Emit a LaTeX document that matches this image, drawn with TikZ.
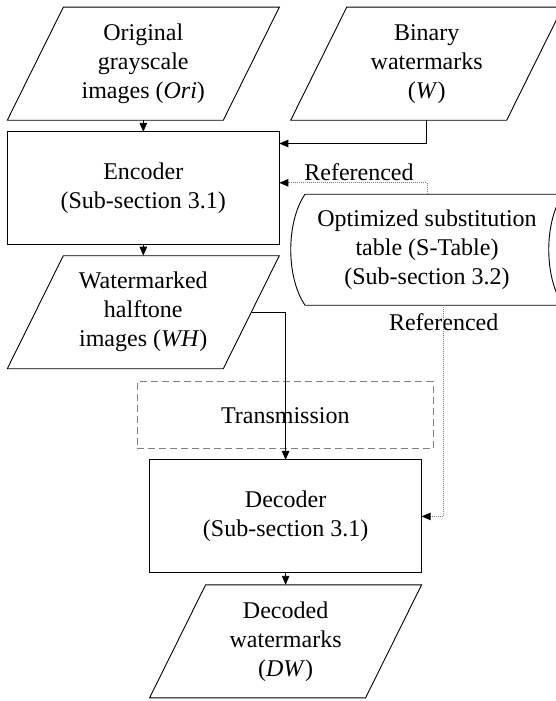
\documentclass[tikz,border=0pt]{standalone}
\usepackage{fontspec}
\setmainfont{Liberation Serif}
\usetikzlibrary{arrows.meta,calc}
\begin{document}
\begin{tikzpicture}[x=1pt,y=-1pt,
  txt/.style={font=\fontsize{24}{29}\selectfont, align=center, inner sep=0pt, outer sep=0pt},
  area/.style={txt, minimum width=272pt, minimum height=113pt},
  shp/.style={draw=black, line width=0.9pt, line join=miter},
  boxx/.style={area, draw=black, line width=0.9pt},
  arr/.style={draw=black, line width=0.9pt, -{Triangle[length=9pt,width=7.5pt]}},
  refl/.style={draw=gray, line width=0.9pt, dash pattern=on 1pt off 1pt, -{Triangle[length=9pt,width=7.5pt,color=black]}},
  dashbox/.style={txt, draw=gray, line width=1pt, dash pattern=on 7pt off 4pt, minimum width=296pt, minimum height=67pt}
]
\useasboundingbox (0,0) rectangle (556,701);
\clip (0,0) rectangle (556,701);
\newcommand\drawpara[1]{\draw[shp] (#1.south west) -- ($(#1.south east)+(-56,0)$) -- (#1.north east) -- ($(#1.north west)+(56,0)$) -- cycle;}

% parallelograms
\node[area] (ori) at (143.3,63.7) {Original\\grayscale\\images (\textit{Ori})};
\drawpara{ori}
\node[area] (bin) at (426.7,63.7) {Binary\\watermarks\\(\textit{W})};
\drawpara{bin}
\node[area] (wh) at (143.3,312.2) {Watermarked\\halftone\\images (\textit{WH})};
\drawpara{wh}
\node[area] (dw) at (285.6,641.3) {Decoded\\watermarks\\(\textit{DW})};
\drawpara{dw}

% process boxes
\node[boxx] (enc) at (143.3,188.3) {Encoder\\(Sub-section 3.1)};
\node[boxx] (dec) at (285.6,516.4) {Decoder\\(Sub-section 3.1)};

% transmission
\node[dashbox] (trans) at (285.3,415.3) {Transmission};

% stored data shape
\node[txt, minimum width=244pt, minimum height=111pt] (stab) at (427,249.7) {Optimized substitution\\table (S-Table)\\(Sub-section 3.2)};
\draw[shp] ($(stab.north east)+(14,0)$) -- (stab.north west)
  .. controls ($(stab.north west)+(-19,28)$) and ($(stab.south west)+(-19,-28)$) .. (stab.south west)
  -- ($(stab.south east)+(14,0)$);
\draw[shp] ($(stab.north east)+(14,0)$)
  .. controls ($(stab.north east)+(-5,28)$) and ($(stab.south east)+(-5,-28)$) .. ($(stab.south east)+(14,0)$);

% labels
\node[txt] (ref1) at (359,171.7) {Referenced};
\node[txt] (ref2) at (443.7,321.7) {Referenced};

% helper coordinates
\coordinate (whE) at ($(wh.east)+(-27,0)$);
\coordinate (stabB) at ($(stab.south)+(16.5,0)$);
\coordinate (encW) at ($(enc.north east)+(0,11.7)$);
\coordinate (encR) at ($(enc.north east)+(0,51)$);

% connectors
\draw[arr] (ori.south) -- (enc.north);
\draw[arr] (enc.south) -- (wh.north);
\draw[arr] (bin.south) |- (encW);
\draw[refl] (stab.north) |- (encR);
\draw[arr] (whE) -| (dec.north);
\draw[refl] (stabB) |- (dec.east);
\draw[arr] (dec.south) -- (dw.north);
\end{tikzpicture}
\end{document}
